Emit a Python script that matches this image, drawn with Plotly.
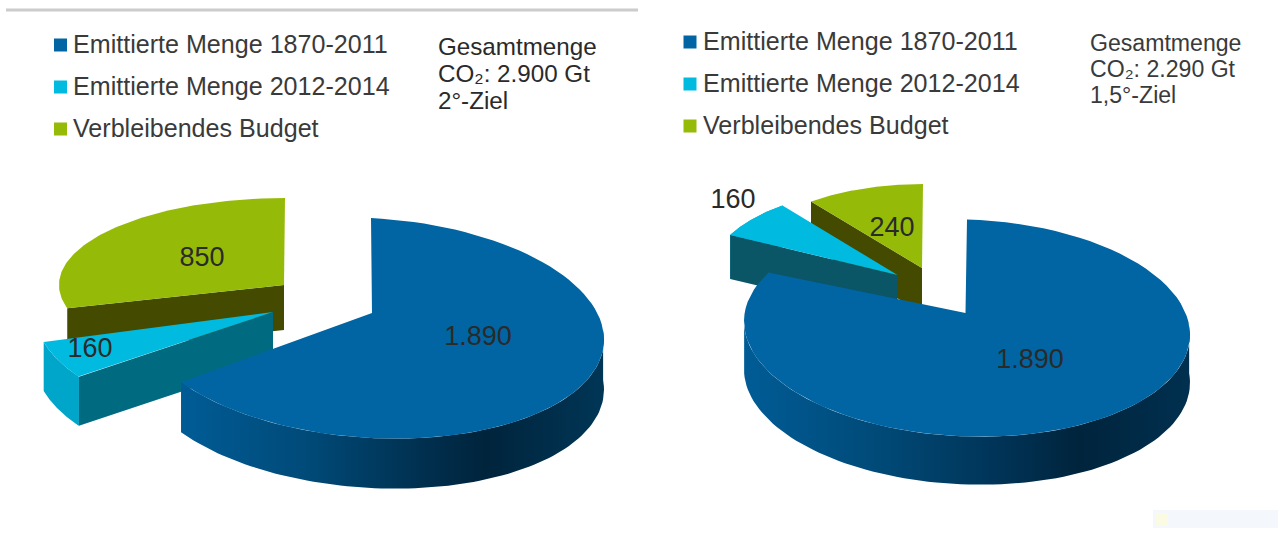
import numpy as np
import plotly.graph_objects as go

# ---- data ----
categories = ["Emittierte Menge 1870-2011", "Emittierte Menge 2012-2014", "Verbleibendes Budget"]
values_2deg = [1890, 160, 850]
values_15deg = [1890, 160, 240]
labels_2deg = ["1.890", "160", "850"]
labels_15deg = ["1.890", "160", "240"]
note_2deg = ["Gesamtmenge", "CO₂: 2.900 Gt", "2°-Ziel"]
note_15deg = ["Gesamtmenge", "CO₂: 2.290 Gt", "1,5°-Ziel"]

# ---- styles ----
TOP = ["#0065a2", "#00bbdf", "#95bb08"]
TXT = "#2a2a2a"
FONT = "Liberation Sans"
W, H = 1278, 547

BLUE_WALL = [[0, "#005c96"], [0.3, "#004a78"], [0.58, "#002f4e"], [0.72, "#00243c"], [1, "#003656"]]
BLUE_WALL2 = [[0, "#005c96"], [0.3, "#004a78"], [0.58, "#003356"], [0.75, "#00243c"], [1, "#003050"]]

fig = go.Figure()


def arc(g, a, b, n=90):
    t = np.radians(np.linspace(a, b, n))
    x = g["cx"] + g["rx"] * np.sin(t)
    y = g["cy"] - g["ry"] * np.cos(t) + g.get("k", 0) * g["rx"] * np.sin(t)
    return x, y


def poly(x, y, color=None, grad=None):
    kw = dict(fillgradient=dict(type="horizontal", colorscale=grad)) if grad else dict(fillcolor=color)
    fig.add_trace(go.Scatter(x=list(x) + [x[0]], y=list(y) + [y[0]], mode="lines", fill="toself",
                             line=dict(width=0), hoverinfo="skip", showlegend=False, **kw))


def radial_face(g, angle, depth, color):
    xe, ye = arc(g, angle, angle, 2)
    poly([g["vx"], xe[0], xe[0], g["vx"]], [g["vy"], ye[0], ye[0] + depth, g["vy"] + depth], color=color)


def outer_wall(g, a, b, depth, color=None, grad=None):
    xw, yw = arc(g, a, b)
    poly(np.r_[xw, xw[::-1]], np.r_[yw, yw[::-1] + depth], color=color, grad=grad)


def surface(g, a, b, color):
    xa, ya = arc(g, a, b)
    poly(np.r_[g["vx"], xa], np.r_[g["vy"], ya], color=color)


def pie(values, geo, depth, style):
    total = sum(values)
    ang = np.cumsum([0] + [v / total * 360 for v in values])
    # back to front: green, cyan, blue
    radial_face(geo[2], ang[2], depth[2], style["green_radial"])
    surface(geo[2], ang[2], ang[3], TOP[2])
    outer_wall(geo[1], ang[1], ang[2], depth[1], color=style["cyan_outer"])
    radial_face(geo[1], ang[1], depth[1], style["cyan_radial"])
    surface(geo[1], ang[1], ang[2], TOP[1])
    outer_wall(geo[0], 85, min(ang[1], 272), depth[0], grad=style["blue_wall"])
    surface(geo[0], ang[0], ang[1], TOP[0])


def texts(xs, ys, labels, size, pos="middle center", color=TXT):
    fig.add_trace(go.Scatter(x=xs, y=ys, mode="text", text=labels, textposition=pos,
                             textfont=dict(family=FONT, size=size, color=color),
                             hoverinfo="skip", showlegend=False))


def legend(x_sq, x_txt, ys):
    fig.add_trace(go.Scatter(x=[x_sq] * 3, y=ys, mode="markers",
                             marker=dict(symbol="square", size=13, color=TOP, line=dict(width=0)),
                             hoverinfo="skip", showlegend=False))
    texts([x_txt] * 3, [y + 2 for y in ys], categories, 25.1, "middle right", "#3a3a3a")


# ---- left pie: 2 degree ----
geo_l = [
    dict(vx=372, vy=313, cx=371, cy=328, rx=233, ry=110, k=0.05),
    dict(vx=273, vy=312, cx=273, cy=312, rx=238, ry=112),
    dict(vx=284, vy=285, cx=285, cy=285, rx=226, ry=87),
]
pie(values_2deg, geo_l, [50, 49, 45],
    dict(green_radial="#444a00", cyan_outer="#00a6ca", cyan_radial="#006b80", blue_wall=BLUE_WALL))

# ---- right pie: 1.5 degree ----
geo_r = [
    dict(vx=965.5, vy=313, cx=967, cy=328, rx=223, ry=108.5, k=0.03),
    dict(vx=897.5, vy=275, cx=897.5, cy=275, rx=188, ry=88),
    dict(vx=922, vy=268, cx=923, cy=268, rx=183, ry=84),
]
pie(values_15deg, geo_r, [48, 44, 45],
    dict(green_radial="#444a00", cyan_outer="#00a6ca", cyan_radial="#0a5566", blue_wall=BLUE_WALL2))

# ---- value labels ----
texts([478, 90, 202], [338, 350, 259], labels_2deg, 27)
texts([1030, 733, 892], [361, 201, 229], labels_15deg, 27)

# ---- legends ----
legend(60.5, 73, [45, 87, 129])
legend(690, 703, [42, 84, 126])

# ---- notes ----
texts([438] * 3, [49, 76, 103], note_2deg, 24.2, "middle right", TXT)
texts([1090] * 3, [45, 71, 97], note_15deg, 23.1, "middle right", "#3a3a3a")

fig.update_layout(
    width=W, height=H, margin=dict(l=0, r=0, t=0, b=0),
    paper_bgcolor="white", plot_bgcolor="white", showlegend=False,
    xaxis=dict(range=[0, W], visible=False, fixedrange=True),
    yaxis=dict(range=[H, 0], visible=False, fixedrange=True),
    shapes=[
        dict(type="line", x0=6, x1=638, y0=10, y1=10, line=dict(color="#cccccc", width=3), layer="below"),
        dict(type="rect", x0=1153, x1=1278, y0=510, y1=528, fillcolor="#f4f8fd", line=dict(width=0), layer="below"),
        dict(type="rect", x0=1156, x1=1168, y0=513, y1=525, fillcolor="#fbfbe4", line=dict(width=0), layer="below"),
    ],
)
fig.write_html("out.html", config=dict(displayModeBar=False),
               post_script="document.body.style.margin='0';document.documentElement.style.overflow='hidden';")
